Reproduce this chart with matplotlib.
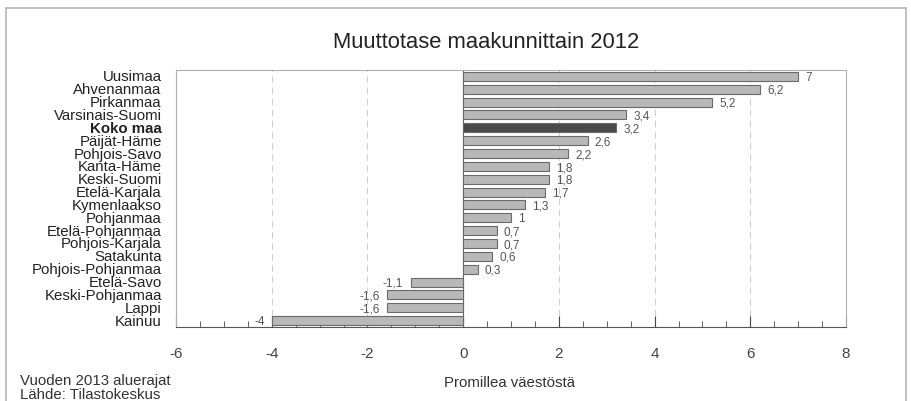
import matplotlib.pyplot as plt
from matplotlib.patches import Rectangle

plt.rcParams['font.family'] = ['Liberation Sans', 'DejaVu Sans']

# Data (promille of population)
regions = ['Uusimaa', 'Ahvenanmaa', 'Pirkanmaa', 'Varsinais-Suomi', 'Koko maa',
           'Päijät-Häme', 'Pohjois-Savo', 'Kanta-Häme', 'Keski-Suomi', 'Etelä-Karjala',
           'Kymenlaakso', 'Pohjanmaa', 'Etelä-Pohjanmaa', 'Pohjois-Karjala', 'Satakunta',
           'Pohjois-Pohjanmaa', 'Etelä-Savo', 'Keski-Pohjanmaa', 'Lappi', 'Kainuu']
values = [7, 6.2, 5.2, 3.4, 3.2, 2.6, 2.2, 1.8, 1.8, 1.7,
          1.3, 1, 0.7, 0.7, 0.6, 0.3, -1.1, -1.6, -1.6, -4]
highlight = 'Koko maa'

fig = plt.figure(figsize=(9.11, 4.02), dpi=100)
ax = fig.add_axes([176 / 911, 1 - 328 / 402, 670 / 911, 257 / 402])

# Outer frame
fig.patches.append(Rectangle((6 / 911, -0.05), 900 / 911, 1 - 9 / 402 + 0.05,
                             transform=fig.transFigure, fill=False,
                             edgecolor='#b5b5b5', linewidth=1.2))

pos = list(range(len(regions)))
colors = ['#4a4a4a' if r == highlight else '#b8b8b8' for r in regions]
ax.barh(pos, values, height=0.7, color=colors, edgecolor='#6a6a6a', linewidth=0.8, zorder=3)

for p, v in zip(pos, values):
    txt = f'{v:g}'.replace('.', ',')
    if v >= 0:
        ax.text(v + 0.15, p + 0.05, txt, va='center', ha='left', fontsize=8.5, color='#555555')
    else:
        ax.text(v - 0.15, p + 0.05, txt, va='center', ha='right', fontsize=8.5, color='#555555')

ax.set_xlim(-6, 8)
ax.set_ylim(len(regions) - 0.5, -0.5)
ax.set_xticks(range(-6, 9, 2))
ax.set_xticklabels([str(t) for t in range(-6, 9, 2)])
ax.set_xticks([x / 2 for x in range(-12, 17)], minor=True)
ax.tick_params(axis='x', which='major', direction='in', length=8, labelsize=11,
               colors='#444444', pad=14)
ax.tick_params(axis='x', which='minor', direction='in', length=4, color='#444444')

ax.set_yticks([])
for p, r in zip(pos, regions):
    ax.text(-6.3, p, r, ha='right', va='center', fontsize=10.8, color='#222222',
            fontweight='bold' if r == highlight else 'normal')

for gx in [-4, -2, 2, 4, 6]:
    ax.axvline(gx, color='#d0d0d0', linestyle=(0, (6, 4)), linewidth=0.8, zorder=1)
ax.axvline(0, color='#666666', linewidth=0.8, zorder=2)

for s in ['top', 'right', 'left']:
    ax.spines[s].set_color('#b0b0b0')
ax.spines['bottom'].set_color('#555555')

fig.text(486 / 911, 1 - 42 / 402, 'Muuttotase maakunnittain 2012', ha='center', va='center',
         fontsize=15.8, color='#222222')
fig.text(510 / 911, 1 - 383 / 402, 'Promillea väestöstä', ha='center', va='center',
         fontsize=10.8, color='#333333')
fig.text(20 / 911, 1 - 381 / 402, 'Vuoden 2013 aluerajat', ha='left', va='center',
         fontsize=10.8, color='#333333')
fig.text(20 / 911, 1 - 395 / 402, 'Lähde: Tilastokeskus', ha='left', va='center',
         fontsize=10.8, color='#333333')

fig.savefig('out.png', dpi=100)
